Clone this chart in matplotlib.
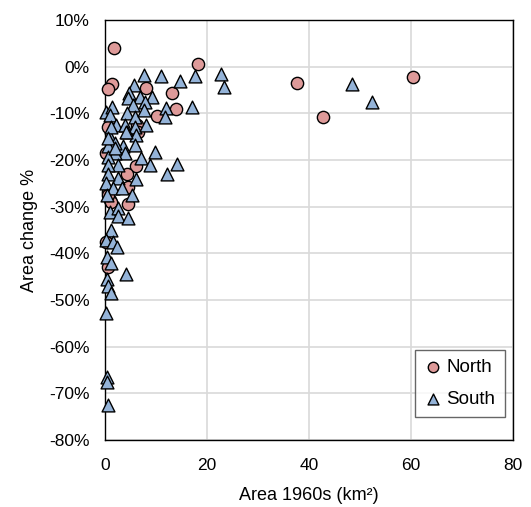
import matplotlib
matplotlib.use("Agg")
import matplotlib.pyplot as plt
from matplotlib.ticker import FuncFormatter

plt.rcParams['font.family'] = ['Liberation Sans', 'DejaVu Sans']

north_x = [1.76, 18.2, 37.6, 60.4, 42.7, 1.37, 0.59, 8.04, 13.1, 13.9, 10.2,
           0.59, 6.27, 6.47, 0.2, 6.08, 4.31, 4.51, 0.59, 0.98, 1.18, 4.51,
           0.59, 0.2, 0.59]
north_y = [4.07, 0.64, -3.43, -2.14, -10.7, -3.64, -4.71, -4.5, -5.57, -9.0, -10.5,
           -12.9, -12.4, -13.9, -18.6, -21.2, -22.9, -25.7, -26.8, -28.5, -29.1, -29.4,
           -42.9, -37.5, -27.4]

south_x = [7.65, 10.98, 14.7, 17.6, 22.7, 23.3, 48.4, 52.4, 5.69, 4.71, 4.51,
           6.86, 9.22, 5.49, 7.84, 11.96, 17.06, 11.76, 0.1, 1.37, 0.98, 4.31,
           5.88, 7.65, 2.16, 3.92, 5.88, 8.04, 4.31, 6.08, 0.98, 9.8, 5.88,
           3.53, 1.96, 0.59, 7.06, 8.82, 14.1, 3.92, 1.96, 0.59, 2.55, 0.59,
           12.2, 6.08, 2.55, 0.59, 0.1, 1.57, 3.33, 5.29, 0.39, 0.98, 2.55,
           2.55, 4.51, 1.18, 0.1, 1.57, 2.35, 0.39, 1.18, 4.12, 0.39, 0.59,
           1.18, 0.2, 0.39, 0.39, 0.59, 4.1, 1.18, 0.59, 1.96]
south_y = [-1.71, -1.93, -3.0, -1.93, -1.5, -4.29, -3.64, -7.5, -3.86, -5.57, -6.64,
           -6.43, -6.43, -8.14, -7.5, -8.79, -8.57, -10.7, -9.64, -8.57, -10.3, -9.86,
           -10.7, -9.21, -12.4, -12.4, -12.9, -12.4, -14.1, -14.6, -15.0, -18.2, -16.7,
           -17.1, -16.3, -17.1, -19.5, -21.0, -20.8, -18.4, -18.4, -19.3, -21.0, -21.0,
           -23.1, -24.0, -23.8, -23.1, -24.9, -25.9, -25.9, -27.6, -27.4, -31.1, -30.2,
           -31.9, -32.4, -34.9, -37.1, -37.5, -38.6, -40.7, -42.0, -44.4, -45.6, -47.1,
           -48.4, -52.7, -66.4, -67.5, -72.4, -13.9, -12.9, -15.2, -17.4]

x_ticks = [0, 20, 40, 60, 80]
y_ticks = [10, 0, -10, -20, -30, -40, -50, -60, -70, -80]

fig = plt.figure(figsize=(5.31, 5.07), dpi=100)
ax = fig.add_axes([105/531, 1-440/507, (513-105)/531, (440-20)/507])

ax.scatter(north_x, north_y, s=78, marker='o', facecolor='#DE9A99',
           edgecolor='black', linewidth=1.0, label='North', zorder=3, clip_on=False)
ax.scatter(south_x, south_y, s=85, marker='^', facecolor='#94B3D8',
           edgecolor='black', linewidth=1.0, label='South', zorder=3, clip_on=False)

ax.set_xlim(0, 80)
ax.set_ylim(-80, 10)
ax.set_xticks(x_ticks)
ax.set_yticks(y_ticks)
ax.yaxis.set_major_formatter(FuncFormatter(lambda v, p: f"{int(round(v))}%"))
ax.grid(True, color='#d9d9d9', linewidth=1.2, zorder=0)
ax.set_axisbelow(True)
ax.tick_params(axis='y', length=0, labelsize=12.5, pad=11, colors='black')
ax.tick_params(axis='x', length=0, labelsize=12.5, pad=13, colors='black')
for s in ax.spines.values():
    s.set_color('black')
    s.set_linewidth(1.0)

ax.set_xlabel('Area 1960s (km²)', fontsize=13, labelpad=10)
ax.set_ylabel('Area change %', fontsize=13, labelpad=8)

leg = ax.legend(loc='lower right', bbox_to_anchor=(0.98, 0.055), fontsize=13.5,
                frameon=True, fancybox=False, edgecolor='#404040',
                handletextpad=0.2, borderpad=0.5, labelspacing=0.75,
                handlelength=1.0, borderaxespad=0, markerscale=0.85)
leg.get_frame().set_linewidth(1.0)

fig.savefig('out.png', dpi=100)
